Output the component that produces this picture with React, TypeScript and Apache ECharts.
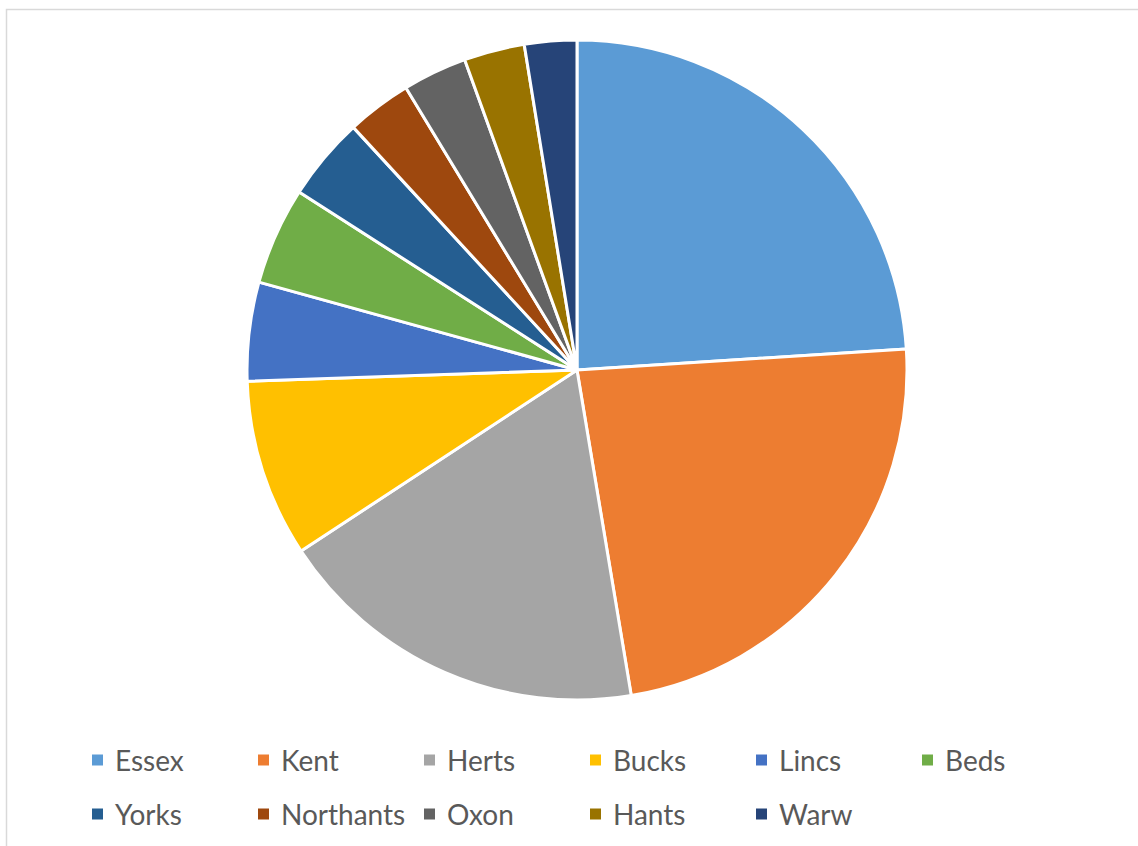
import React, { useEffect, useRef } from "react";
import * as echarts from "echarts";

const categories = ["Essex", "Kent", "Herts", "Bucks", "Lincs", "Beds", "Yorks", "Northants", "Oxon", "Hants", "Warw"];
const values = [24.0, 23.4, 18.4, 8.7, 4.84, 4.78, 4.08, 3.18, 3.15, 2.97, 2.56];
const colors = ["#5B9BD5", "#ED7D31", "#A5A5A5", "#FFC000", "#4472C4", "#70AD47", "#255E91", "#9E480E", "#636363", "#997300", "#264478"];
const legendRow1 = categories.slice(0, 6);
const legendRow2 = categories.slice(6);

export default function App() {
  const ref = useRef<HTMLDivElement>(null);
  useEffect(() => {
    if (!ref.current) return;
    const chart = echarts.init(ref.current, undefined, { renderer: "svg" });
    const legendBase = {
      left: 90,
      itemWidth: 13,
      itemHeight: 13,
      itemGap: 0,
      icon: "rect",
      padding: 0,
      selectedMode: false,
      textStyle: {
        fontFamily: "Lato",
        fontSize: 28,
        color: "#595959",
        width: 141,
        lineHeight: 13,
        padding: [0, 0, 0, 6],
      },
    };
    chart.setOption({
      animation: false,
      backgroundColor: "#ffffff",
      color: colors,
      graphic: [
        {
          type: "rect",
          shape: { x: 6.5, y: 9.5, width: 1300, height: 1000 },
          style: { fill: "none", stroke: "#d9d9d9", lineWidth: 1.5 },
          silent: true,
        },
      ],
      legend: [
        { ...legendBase, top: 746, data: legendRow1 },
        { ...legendBase, top: 800, data: legendRow2 },
      ],
      series: [
        {
          type: "pie",
          center: [577, 370],
          radius: 330,
          startAngle: 90,
          clockwise: true,
          label: { show: false },
          labelLine: { show: false },
          emphasis: { disabled: true },
          itemStyle: { borderColor: "#ffffff", borderWidth: 3 },
          data: categories.map((name, i) => ({ name, value: values[i] })),
        },
      ],
    });
    return () => chart.dispose();
  }, []);
  return <div ref={ref} style={{ position: "absolute", left: 0, top: 0, width: 1138, height: 846 }} />;
}
